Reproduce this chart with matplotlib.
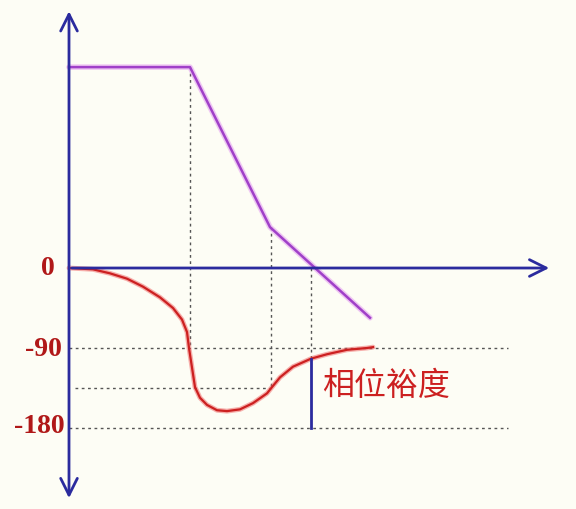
import matplotlib
matplotlib.use("Agg")
import matplotlib.pyplot as plt

# x in arbitrary log-frequency units, y in degrees (magnitude drawn on same scale)
phase_x = [0, 0.24, 0.41, 0.58, 0.74, 0.91, 1.04, 1.13, 1.18, 1.20, 1.23, 1.26,
           1.31, 1.38, 1.48, 1.58, 1.71, 1.84, 1.98, 2.03, 2.11, 2.24, 2.42,
           2.58, 2.78, 2.98, 3.04]
phase_y = [0, -1.5, -6, -12, -21, -33, -45, -58, -72, -90, -112, -134,
           -146, -154, -160, -161, -159, -152, -141, -134, -123, -111, -102,
           -97, -92, -90, -89]

mag_x = [0, 1.21, 2.01, 3.01]
mag_y = [226, 226, 46, -56]

corner1 = 1.21
corner2 = 2.02
crossover = 2.42
phase_at_corner1 = -90
phase_at_corner2 = -135
phase_at_crossover = -102
mid_level = -135

tick_labels = ["0", "-90", "-180"]
margin_text = "相位裕度"

bg = "#fdfdf5"
navy = "#2b2b9e"
red = "#cc2020"
purple = "#a040c8"
grey = "#555555"

fig = plt.figure(figsize=(5.76, 5.09), dpi=100, facecolor=bg)
ax = fig.add_axes([0, 0, 1, 1])
ax.set_facecolor(bg)
ax.set_xlim(-0.69, 5.07)
ax.set_ylim(-271.1, 301.5)
ax.axis("off")

dash = dict(color=grey, lw=1, linestyle=(0, (2, 2.5)))

# horizontal reference lines
ax.plot([0, 4.39], [-90, -90], **dash)
ax.plot([0, 4.39], [-180, -180], **dash)
ax.plot([0.06, corner2], [mid_level, mid_level], **dash)

# vertical reference lines
ax.plot([corner1, corner1], [mag_y[1], phase_at_corner1], **dash)
ax.plot([corner2, corner2], [mag_y[2], phase_at_corner2], **dash)
ax.plot([crossover, crossover], [0, phase_at_crossover], **dash)

# axes with arrows
ax.annotate("", xy=(4.83, 0), xytext=(0, 0),
            arrowprops=dict(arrowstyle="->", color=navy, lw=2, mutation_scale=30))
ax.annotate("", xy=(0, 292), xytext=(0, -262),
            arrowprops=dict(arrowstyle="<->", color=navy, lw=2, mutation_scale=30))

# magnitude asymptotes
ax.plot(mag_x, mag_y, color="#e090f0", lw=4, alpha=0.5, solid_capstyle="round")
ax.plot(mag_x, mag_y, color=purple, lw=1.8)

# phase curve
ax.plot(phase_x, phase_y, color="#f06060", lw=3.5, alpha=0.5,
        solid_joinstyle="round", solid_capstyle="round")
ax.plot(phase_x, phase_y, color=red, lw=1.6, solid_joinstyle="round")

# phase margin marker
ax.plot([crossover, crossover], [phase_at_crossover, -180], color=navy, lw=2)
ax.text(crossover + 0.11, mid_level + 2, margin_text, color=red, fontsize=23,
        family=["Noto Sans CJK SC", "DejaVu Sans"], va="center", ha="left")

# tick labels
label_x = [-0.14, -0.07, -0.04]
label_y = [0, -92, -178]
for lx, ly, t in zip(label_x, label_y, tick_labels):
    ax.text(lx, ly, t, color="#b01818", fontsize=20, fontweight="bold",
            family="Liberation Serif", ha="right", va="center")

fig.savefig("out.png", dpi=100, facecolor=bg)
